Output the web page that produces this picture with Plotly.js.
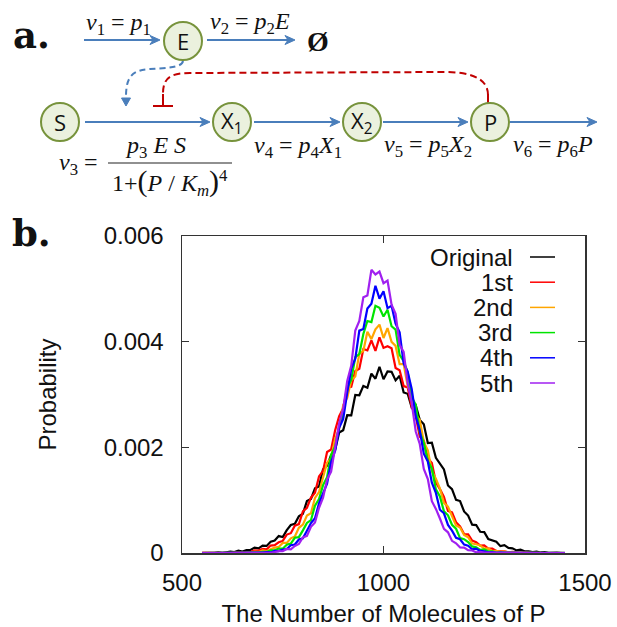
<!DOCTYPE html>
<html><head><meta charset="utf-8">
<script src="https://cdn.plot.ly/plotly-3.0.1.min.js"></script>
<style>html,body{margin:0;padding:0;background:#fff;}#chart{width:617px;height:627px;}</style>
</head><body><div id="chart"></div>
<script>
// ---- data (probabilities x 1e6) ----
const molecules = [550,560,570,580,590,600,610,620,630,640,650,660,670,680,690,700,710,720,730,740,750,760,770,780,790,800,810,820,830,840,850,860,870,880,890,900,910,920,930,940,950,960,970,980,990,1000,1010,1020,1030,1040,1050,1060,1070,1080,1090,1100,1110,1120,1130,1140,1150,1160,1170,1180,1190,1200,1210,1220,1230,1240,1250,1260,1270,1280,1290,1300,1310,1320,1330,1340,1350,1360,1370,1380,1390,1400,1410,1420,1430,1440,1450];
const seriesNames = ['Original','1st','2nd','3rd','4th','5th'];
const original = [3,1,8,4,11,3,14,24,18,43,28,54,58,103,87,139,133,212,235,320,302,432,529,554,696,744,983,1023,1224,1260,1582,1652,1856,1954,2280,2325,2607,2603,2992,2985,3163,3127,3396,3298,3525,3289,3437,3428,3267,3354,3038,3013,2753,2798,2519,2435,2081,2088,1802,1703,1582,1279,1207,1007,983,786,709,536,529,402,396,264,243,213,130,148,97,88,50,64,33,33,17,26,10,15,1,6,6,1,4];
const first = [1,0,2,0,4,2,8,0,9,15,10,22,19,52,46,77,69,141,149,202,228,349,375,516,547,788,856,1047,1139,1450,1554,1913,1958,2323,2591,2740,3135,3145,3445,3486,3860,3836,4024,3827,4080,3882,3914,3875,3501,3459,3159,3135,2767,2591,2203,2128,1795,1704,1338,1209,1063,797,768,584,505,360,353,236,205,140,143,84,82,37,40,33,13,22,12,4,9,3,4,0,1,3,0,1,0,0,0];
const second = [0,1,0,0,0,3,0,4,0,9,5,11,7,26,20,48,34,73,102,115,192,190,278,312,477,538,711,754,1043,1153,1427,1710,1801,2161,2347,2797,2938,3270,3341,3772,3826,4188,4048,4232,4322,4070,4258,3997,3920,3575,3577,3156,2979,2617,2519,2103,1942,1548,1408,1221,949,876,698,521,483,341,299,180,166,143,82,88,37,39,22,30,8,12,1,7,3,4,0,2,1,0,0,0,0,0,0];
const third = [0,0,1,0,0,0,1,0,2,0,4,1,7,14,6,20,20,51,51,83,82,158,178,288,300,428,569,621,897,1022,1285,1435,1857,2018,2395,2623,3130,3278,3708,3766,4146,4391,4370,4678,4641,4476,4604,4292,4227,3751,3633,3422,2952,2805,2286,2087,1742,1600,1205,1070,788,713,534,459,282,261,208,125,107,59,69,33,31,8,19,7,6,0,4,0,2,0,1,0,0,0,1,0,0,0,0];
const fourth = [0,0,0,0,0,0,0,0,0,1,0,1,4,0,9,7,15,11,40,36,65,76,148,161,256,279,422,567,659,938,1130,1311,1723,1935,2368,2538,3035,3489,3679,4209,4240,4628,4720,5058,4815,4953,4634,4679,4339,4177,3587,3431,3103,2590,2320,1879,1733,1329,1138,819,752,532,422,288,260,158,137,69,81,40,33,11,17,5,9,0,3,2,0,1,0,0,0,1,0,0,0,0,0,0,0];
const fifth = [0,0,0,0,0,0,0,0,0,0,0,0,0,0,5,3,10,3,17,35,33,76,71,133,171,294,322,495,578,857,1045,1391,1541,2031,2458,2733,3255,3548,4209,4394,4840,4874,5360,5272,5326,5106,5157,4702,4528,3939,3805,3213,2839,2300,2064,1592,1400,980,835,653,457,392,230,184,105,103,55,47,13,22,7,8,8,0,2,0,1,0,0,0,0,0,1,0,0,0,0,0,0,0,0];
const seriesValues = [original, first, second, third, fourth, fifth];
const xTicks = [500, 1000, 1500];
const yTicks = [0, 0.002, 0.004, 0.006];
const yTickText = ['0', '0.002', '0.004', '0.006'];

// ---- styles ----
const seriesColors = ['#000000','#ff0000','#ffa500','#00e400','#0000ff','#a020f0'];
const BLUE = '#4a7ebb', RED = '#c00000', NODE_FILL = '#ebf1de', NODE_LINE = '#77933c';
const SANS = 'Liberation Sans, Arial, sans-serif';
const SERIF = 'Liberation Serif, Times New Roman, serif';

// plot area in pixels
const L = 182, R = 585, T = 236, B = 553;
const px = x => (x - L) / (R - L);
const py = y => (B - y) / (B - T);
function P(d) { let i = 0; return d.replace(/-?\d+(\.\d+)?/g, m => { const v = parseFloat(m); return ((i++ % 2 === 0) ? px(v) : py(v)).toFixed(5); }); }

const traces = seriesValues.map((vals, k) => ({
  x: molecules, y: vals.map(v => v / 1e6), type: 'scatter', mode: 'lines',
  name: seriesNames[k], line: { color: seriesColors[k], width: 2.2 }, hoverinfo: 'skip'
}));

const shapes = [], annotations = [];
function txt(x, y, text, size, family, extra) {
  annotations.push(Object.assign({ xref: 'paper', yref: 'paper', x: px(x), y: py(y), text: text, showarrow: false,
    xanchor: 'center', yanchor: 'middle', font: { size: size, family: family, color: '#111' } }, extra || {}));
}
function node(cx, cy, label) {
  const r = 19;
  shapes.push({ type: 'circle', xref: 'paper', yref: 'paper', x0: px(cx - r), x1: px(cx + r), y0: py(cy + r), y1: py(cy - r),
    fillcolor: NODE_FILL, line: { color: NODE_LINE, width: 2 }, layer: 'above' });
  txt(cx, cy, label, 22, 'Open Sans, Noto Sans, sans-serif');
}
function arrow(x0, x1, y) {
  shapes.push({ type: 'path', xref: 'paper', yref: 'paper', path: P(`M ${x0} ${y} L ${x1 - 4} ${y}`), line: { color: BLUE, width: 2 } });
  shapes.push({ type: 'path', xref: 'paper', yref: 'paper', path: P(`M ${x1} ${y} L ${x1 - 10} ${y - 4.5} L ${x1 - 7} ${y} L ${x1 - 10} ${y + 4.5} Z`),
    fillcolor: BLUE, line: { color: BLUE, width: 1 } });
}

// panel labels
txt(31, 35, '<b>a.</b>', 37, 'DejaVu Serif, serif');
txt(31, 233, '<b>b.</b>', 37, 'DejaVu Serif, serif');

// arrows
arrow(84, 160, 40);
arrow(207, 295, 40);
arrow(85, 210, 122);
arrow(254, 340, 122);
arrow(383, 468, 122);
arrow(510, 597, 122);

// feedback curves
shapes.push({ type: 'path', xref: 'paper', yref: 'paper', path: P('M 183 61 C 182 68 165 68 150 69 C 131 70 126 78 126 97'),
  line: { color: BLUE, width: 2, dash: '6px,4px' } });
shapes.push({ type: 'path', xref: 'paper', yref: 'paper', path: P('M 126 106 L 121.5 98 L 130.5 98 Z'), fillcolor: BLUE, line: { color: BLUE, width: 1 } });
shapes.push({ type: 'path', xref: 'paper', yref: 'paper', path: P('M 488 95 C 488 78 470 72 445 72 L 190 73 C 170 73 163 78 163 94'),
  line: { color: RED, width: 2, dash: '7px,4px' } });
shapes.push({ type: 'path', xref: 'paper', yref: 'paper', path: P('M 488 94 L 488 104'), line: { color: RED, width: 2 } });
shapes.push({ type: 'path', xref: 'paper', yref: 'paper', path: P('M 163 94 L 163 106 M 153 106 L 173 106'), line: { color: RED, width: 2 } });

// nodes
node(183, 41, 'E');
node(60, 122, 'S');
node(232, 122, 'X<sub>1</sub>');
node(362, 122, 'X<sub>2</sub>');
node(490, 122, 'P');

// rate labels
txt(118, 24, '<i>v</i><sub>1</sub> = <i>p</i><sub>1</sub>', 24, SERIF);
txt(250, 23, '<i>v</i><sub>2</sub> = <i>p</i><sub>2</sub><i>E</i>', 24, SERIF);
txt(318, 41, '<b>Ø</b>', 28, SERIF);
txt(79, 164, '<i>v</i><sub>3</sub> =', 24, SERIF);
shapes.push({ type: 'line', xref: 'paper', yref: 'paper', x0: px(108), x1: px(232), y0: py(163), y1: py(163), line: { color: '#222', width: 1.2 } });
txt(155, 147, '<i>p</i><sub>3</sub> <i>E S</i>', 24, SERIF);
txt(170, 182, '1+<span style="font-size:30px">(</span><i>P</i> / <i>K</i><sub><i>m</i></sub><span style="font-size:30px">)</span><sup>4</sup>', 24, SERIF);
txt(298, 147, '<i>v</i><sub>4</sub> = <i>p</i><sub>4</sub><i>X</i><sub>1</sub>', 24, SERIF);
txt(428, 146, '<i>v</i><sub>5</sub> = <i>p</i><sub>5</sub><i>X</i><sub>2</sub>', 24, SERIF);
txt(553, 146, '<i>v</i><sub>6</sub> = <i>p</i><sub>6</sub><i>P</i>', 24, SERIF);

// legend (gnuplot style: right-aligned label, line sample to the right)
seriesNames.forEach((name, k) => {
  const y = 257 + 25.2 * k;
  txt(515, y, name, 24, SANS, { xanchor: 'right' });
  shapes.push({ type: 'line', xref: 'paper', yref: 'paper', x0: px(530), x1: px(555), y0: py(y), y1: py(y), line: { color: seriesColors[k], width: 1.5 } });
});

const axisCommon = { showline: true, linecolor: '#333', linewidth: 1.5, mirror: 'ticks', ticks: 'inside', ticklen: 7,
  tickwidth: 1.5, tickcolor: '#333', showgrid: false, zeroline: false, fixedrange: true,
  tickfont: { size: 24, family: SANS, color: '#111' } };

const layout = {
  width: 617, height: 627, margin: { l: 182, r: 32, t: 236, b: 74, pad: 0 },
  paper_bgcolor: '#ffffff', plot_bgcolor: '#ffffff', showlegend: false,
  font: { family: SANS, size: 24, color: '#111' },
  xaxis: Object.assign({}, axisCommon, { range: [500, 1500], tickvals: xTicks, ticklabelstandoff: 8,
    title: { text: 'The Number of Molecules of P', standoff: 10, font: { size: 24, family: SANS, color: '#111' } } }),
  yaxis: Object.assign({}, axisCommon, { range: [0, 0.006], tickvals: yTicks, ticktext: yTickText, ticklabelstandoff: 12,
    title: { text: 'Probability', standoff: 40, font: { size: 24, family: SANS, color: '#111' } } }),
  shapes: shapes, annotations: annotations
};

Plotly.newPlot('chart', traces, layout, { staticPlot: true, displayModeBar: false });
</script></body></html>
